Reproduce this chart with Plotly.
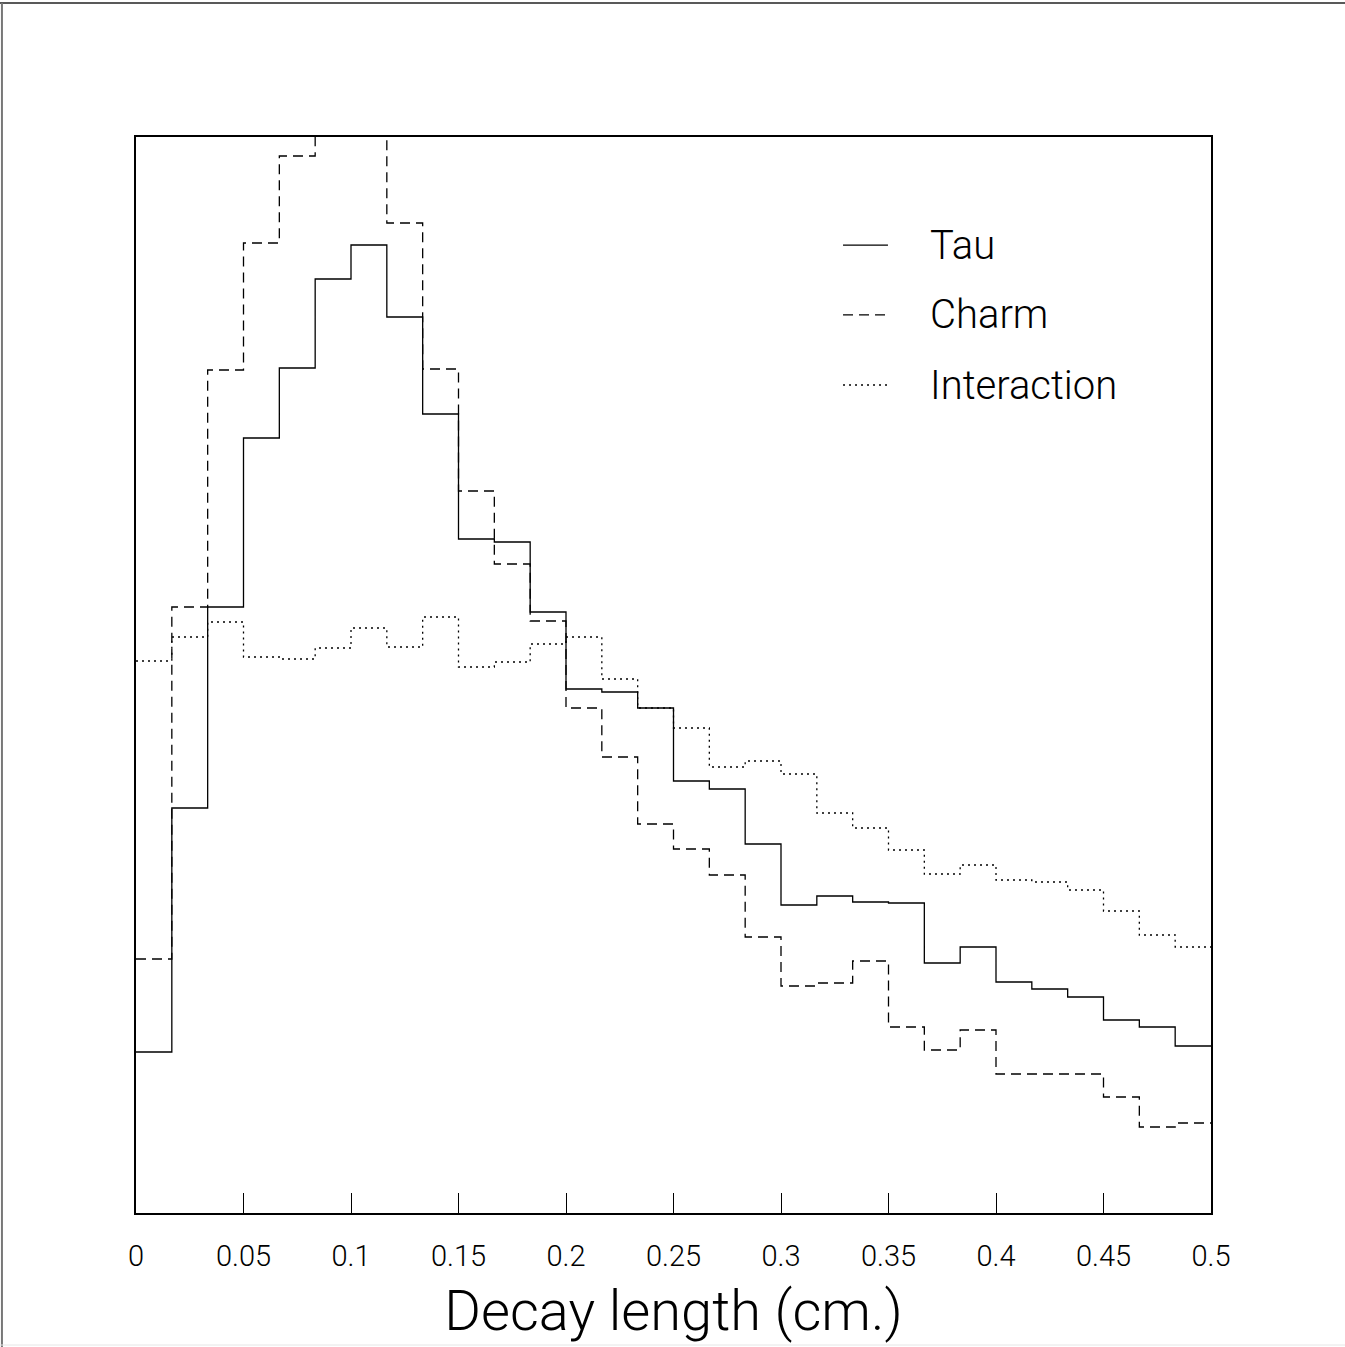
import plotly.graph_objects as go

# ---- data ----
bin_edges = [i / 60 for i in range(31)]  # 30 bins of width 1/60 cm over [0, 0.5]

tau = [80.5, 202.5, 303, 387.5, 422.5, 467, 484, 448, 399.5, 337,
       335.5, 300.5, 262, 260.5, 252.5, 216, 212, 184.5, 154, 158.5,
       155.5, 155, 125, 133, 115.5, 112, 108, 96.5, 93, 83.5]

charm = [127, 303, 421.5, 485, 528.5, 570, 585, 495, 422, 361,
         324.5, 296, 252.5, 228, 194.5, 182, 169, 138, 113.5, 115,
         126, 93, 81.5, 91.5, 69.5, 69.5, 69.5, 58, 43, 45]

interaction = [276, 288, 295.5, 278, 277, 282.5, 292.5, 283, 298, 273,
               275.5, 284.5, 288, 267, 252.5, 242.5, 223, 226, 219.5, 200,
               192.5, 181.5, 169.5, 174, 166.5, 165.5, 161.5, 151, 139, 133]

series_names = ["Tau", "Charm", "Interaction"]
tick_vals = [0, 0.05, 0.1, 0.15, 0.2, 0.25, 0.3, 0.35, 0.4, 0.45, 0.5]
tick_text = ["0", "0.05", "0.1", "0.15", "0.2", "0.25", "0.3", "0.35", "0.4", "0.45", "0.5"]
x_title = "Decay length (cm.)"

FONT = "Roboto"
dashes = ["solid", "10px,6px", "2px,4px"]

fig = go.Figure()
for name, vals, d in zip(series_names, [tau, charm, interaction], dashes):
    fig.add_trace(go.Scatter(
        x=bin_edges, y=vals + [vals[-1]], mode="lines", name=name,
        line=dict(shape="hv", color="black", width=1.3, dash=d),
        showlegend=False, hoverinfo="skip"))

# legend drawn manually
leg_y = [0.8996, 0.8346, 0.7695]
for name, d, ly in zip(series_names, dashes, leg_y):
    fig.add_shape(type="line", xref="paper", yref="paper",
                  x0=0.6577, x1=0.6995, y0=ly, y1=ly,
                  line=dict(color="black", width=1.3, dash=d))
    fig.add_annotation(xref="paper", yref="paper", x=0.7367, y=ly,
                       xanchor="left", yanchor="middle", text=name, showarrow=False,
                       font=dict(family=FONT, size=40, color="black", weight=300))

# outer page frame
fig.add_shape(type="line", xref="paper", yref="paper", x0=-0.13, x1=1.13,
              y0=1.1245, y1=1.1245, line=dict(color="#222", width=1.5))
fig.add_shape(type="line", xref="paper", yref="paper", x0=-0.1247, x1=-0.1247,
              y0=-0.125, y1=1.1245, line=dict(color="#777", width=2))
fig.add_shape(type="line", xref="paper", yref="paper", x0=-0.13, x1=1.13,
              y0=-0.1227, y1=-0.1227, line=dict(color="#e6e6e6", width=1))

fig.update_layout(
    width=1345, height=1347,
    margin=dict(l=136, r=134, t=137, b=134),
    paper_bgcolor="white", plot_bgcolor="white",
    xaxis=dict(range=[0, 0.5], tickmode="array", tickvals=tick_vals, ticktext=tick_text,
               ticks="inside", ticklen=20, tickwidth=1, tickcolor="black",
               showline=True, linecolor="black", linewidth=1.5, mirror=True,
               showgrid=False, zeroline=False, ticklabelstandoff=16,
               tickfont=dict(family=FONT, size=29, color="black", weight=300),
               title=dict(text=x_title, standoff=19,
                          font=dict(family=FONT, size=56, color="black", weight=300))),
    yaxis=dict(range=[0, 538], showticklabels=False, ticks="",
               showline=True, linecolor="black", linewidth=1.5, mirror=True,
               showgrid=False, zeroline=False),
)

fig.write_html("out.html")
